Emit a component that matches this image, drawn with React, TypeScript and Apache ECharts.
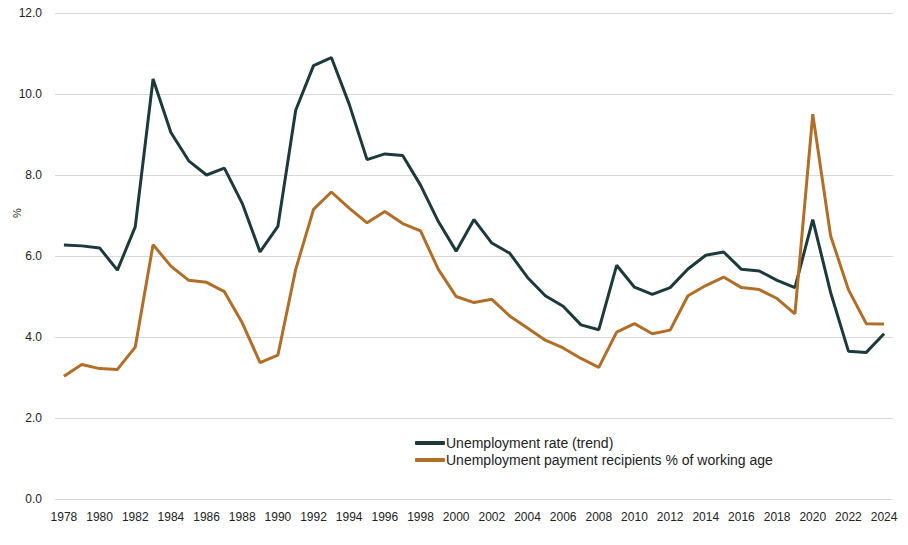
import React, { useEffect, useRef } from "react";
import * as echarts from "echarts";

const years: string[] = [];
for (let y = 1978; y <= 2024; y++) years.push(String(y));

const unemploymentRate = [
  6.27, 6.25, 6.2, 5.65, 6.72, 10.37, 9.05, 8.35, 8.0, 8.17,
  7.3, 6.1, 6.73, 9.6, 10.7, 10.9, 9.75, 8.38, 8.52, 8.48,
  7.75, 6.85, 6.12, 6.9, 6.32, 6.07, 5.47, 5.02, 4.76, 4.3,
  4.18, 5.77, 5.23, 5.05, 5.22, 5.68, 6.02, 6.1, 5.67, 5.63,
  5.4, 5.22, 6.9, 5.1, 3.65, 3.62, 4.08,
];

const paymentRecipients = [
  3.03, 3.32, 3.22, 3.2, 3.75, 6.28, 5.75, 5.4, 5.35, 5.12,
  4.35, 3.37, 3.55, 5.67, 7.15, 7.58, 7.18, 6.82, 7.1, 6.8,
  6.62, 5.67, 5.0, 4.85, 4.93, 4.52, 4.22, 3.92, 3.73, 3.47,
  3.25, 4.12, 4.33, 4.08, 4.17, 5.02, 5.27, 5.48, 5.22, 5.17,
  4.95, 4.57, 9.5, 6.5, 5.17, 4.33, 4.32,
];

const seriesNames = [
  "Unemployment rate (trend)",
  "Unemployment payment recipients % of working age",
];

const colors = ["#1c3a3b", "#b06e29"];
const font = "'Liberation Sans', Arial, sans-serif";

export default function App() {
  const ref = useRef<HTMLDivElement>(null);
  useEffect(() => {
    document.body.style.margin = "0";
    const chart = echarts.init(ref.current!, null, { renderer: "svg" });
    chart.setOption({
      animation: false,
      textStyle: { fontFamily: font },
      grid: { left: 55, right: 15, top: 13, bottom: 46 },
      legend: {
        orient: "vertical",
        left: 410,
        top: 431,
        itemWidth: 30,
        itemHeight: 4,
        itemGap: 3,
        icon: "roundRect",
        textStyle: { fontSize: 14, color: "#222", fontFamily: font, padding: [0, 0, 0, -4] },
        data: seriesNames,
      },
      graphic: [
        {
          type: "text",
          x: 17,
          y: 213,
          rotation: Math.PI / 2,
          style: { text: "%", fill: "#222", font: `11px ${font}`, align: "center", verticalAlign: "middle" },
        },
      ],
      xAxis: {
        type: "category",
        data: years,
        boundaryGap: true,
        axisLine: { show: false },
        axisTick: { show: false },
        axisLabel: { interval: 1, color: "#222", fontSize: 12, margin: 12, fontFamily: font },
      },
      yAxis: {
        type: "value",
        min: 0,
        max: 12,
        interval: 2,
        axisLine: { show: false },
        axisTick: { show: false },
        axisLabel: {
          color: "#222",
          fontSize: 12,
          margin: 13,
          fontFamily: font,
          formatter: (v: number) => v.toFixed(1),
        },
        splitLine: { lineStyle: { color: "#d9d9d9", width: 1 } },
      },
      series: [
        {
          name: seriesNames[0],
          type: "line",
          data: unemploymentRate,
          symbol: "none",
          lineStyle: { color: colors[0], width: 3 },
          itemStyle: { color: colors[0] },
        },
        {
          name: seriesNames[1],
          type: "line",
          data: paymentRecipients,
          symbol: "none",
          lineStyle: { color: colors[1], width: 3 },
          itemStyle: { color: colors[1] },
        },
      ],
    });
    return () => chart.dispose();
  }, []);
  return <div ref={ref} style={{ width: 908, height: 545 }} />;
}
